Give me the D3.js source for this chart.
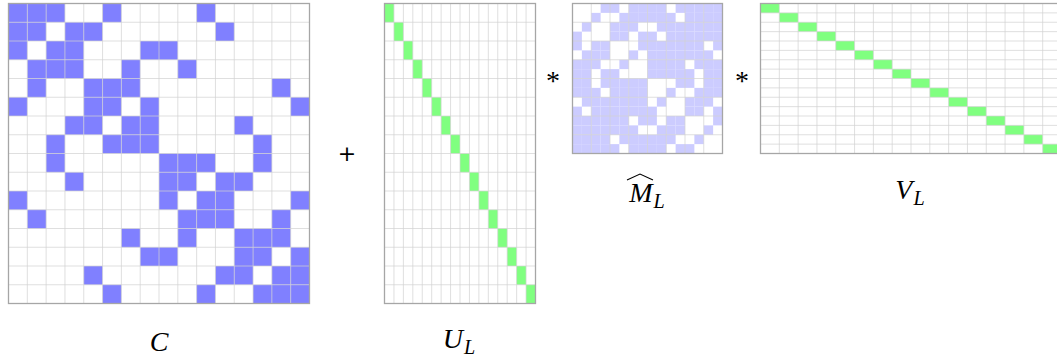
<!DOCTYPE html>
<html>
<head>
<meta charset="utf-8">
<script src="https://cdn.jsdelivr.net/npm/d3@7"></script>
<style>
  html, body { margin: 0; padding: 0; background: #fff; }
  svg { display: block; }
  .lbl { font-family: "Liberation Serif", "DejaVu Serif", serif; font-style: italic; fill: #000; }
  .op { font-family: "DejaVu Sans", sans-serif; fill: #000; }
</style>
</head>
<body>
<div id="chart"></div>
<script>
// C: sparse matrix, 1 = filled cell (row by row)
const cRows = [
  "1110010000100000",
  "1101100000010000",
  "1011000110000000",
  "0111001001000000",
  "0100111000000010",
  "1000110100000001",
  "0001101100001000",
  "0010011100000100",
  "0010000011100100",
  "0001000011011000",
  "1000000010110001",
  "0100000001110010",
  "0000001001001110",
  "0000000110001101",
  "0000100000011011",
  "0000010000100111"
];

// M_L hat: dense-ish matrix drawn at half cell size
const mRows = [
  "0001101111011111",
  "0010011111101111",
  "0100111001111111",
  "1000110110111111",
  "1011000111111101",
  "0111001011111110",
  "1110010011110111",
  "1101100011111011",
  "1101111100011011",
  "1110111100100111",
  "0111111101001110",
  "1011111110001101",
  "1111110110110001",
  "1111111001110010",
  "1111011111100100",
  "1111101111011000"
];

// U_L and V_L: column index of the filled cell in each row
const uDiag = [0, 1, 2, 3, 4, 5, 6, 7, 8, 9, 10, 11, 12, 13, 14, 15];
const vDiag = [0, 1, 2, 3, 4, 5, 6, 7, 8, 9, 10, 11, 12, 13, 14, 15];

const W = 1057, H = 360;
const idx = d3.range(16);

const svg = d3.select('#chart')
  .append('svg')
  .attr('width', W)
  .attr('height', H);

function cellsFromRows(rows) {
  const out = [];
  rows.forEach((r, i) => {
    r.split('').forEach((v, j) => { if (v === '1') out.push({ r: i, c: j }); });
  });
  return out;
}

function cellsFromDiag(diag) {
  return diag.map((c, i) => ({ r: i, c: c }));
}

function panel(opts) {
  const x = d3.scaleBand().domain(idx).range([0, opts.w]);
  const y = d3.scaleBand().domain(idx).range([0, opts.h]);

  const g = svg.append('g')
    .attr('transform', 'translate(' + opts.x + ',' + opts.y + ')');

  g.append('rect')
    .attr('width', opts.w)
    .attr('height', opts.h)
    .attr('fill', '#fff');

  g.selectAll('rect.cell')
    .data(opts.cells)
    .enter()
    .append('rect')
    .attr('class', 'cell')
    .attr('x', d => x(d.c))
    .attr('y', d => y(d.r))
    .attr('width', x.bandwidth())
    .attr('height', y.bandwidth())
    .attr('fill', opts.fill);

  const step = opts.gridStep || 1;
  const vx = idx.filter(i => i > 0 && i % step === 0);

  g.selectAll('line.vx')
    .data(vx)
    .enter()
    .append('line')
    .attr('x1', d => x(d)).attr('x2', d => x(d))
    .attr('y1', 0).attr('y2', opts.h)
    .attr('stroke', '#d2d2d2')
    .attr('stroke-opacity', 0.7)
    .attr('stroke-width', 1);

  g.selectAll('line.hy')
    .data(vx)
    .enter()
    .append('line')
    .attr('y1', d => y(d)).attr('y2', d => y(d))
    .attr('x1', 0).attr('x2', opts.w)
    .attr('stroke', '#d2d2d2')
    .attr('stroke-opacity', 0.7)
    .attr('stroke-width', 1);

  g.append('rect')
    .attr('width', opts.w)
    .attr('height', opts.h)
    .attr('fill', 'none')
    .attr('stroke', '#a6a6a6')
    .attr('stroke-width', 1.3);
}

panel({ x: 8.5, y: 3.5, w: 301, h: 300, cells: cellsFromRows(cRows), fill: '#8080ff' });
panel({ x: 384.5, y: 3.5, w: 151, h: 300, cells: cellsFromDiag(uDiag), fill: '#80ff80' });
panel({ x: 572.5, y: 3.5, w: 150, h: 150, cells: cellsFromRows(mRows), fill: '#ccccff', gridStep: 2 });
panel({ x: 760.5, y: 3.5, w: 301, h: 150, cells: cellsFromDiag(vDiag), fill: '#80ff80' });

// operators
svg.append('text').attr('class', 'op')
  .attr('x', 347).attr('y', 161).attr('text-anchor', 'middle')
  .attr('font-size', 22).text('+');
svg.append('text').attr('class', 'lbl')
  .attr('x', 553).attr('y', 90).attr('text-anchor', 'middle')
  .style('font-style', 'normal').attr('font-size', 28).text('*');
svg.append('text').attr('class', 'lbl')
  .attr('x', 742).attr('y', 90).attr('text-anchor', 'middle')
  .style('font-style', 'normal').attr('font-size', 28).text('*');

// labels
function label(cx, base, main, sub, size) {
  const t = svg.append('text').attr('class', 'lbl')
    .attr('x', cx).attr('y', base).attr('text-anchor', 'middle')
    .attr('font-size', size);
  t.append('tspan').text(main);
  if (sub) {
    t.append('tspan').attr('font-size', size * 0.72).attr('dx', 1).attr('dy', size * 0.2).text(sub);
  }
  return t;
}

label(159, 351, 'C', null, 28);
label(459, 348, 'U', 'L', 28);
label(647, 202, 'M', 'L', 28);
label(910, 199, 'V', 'L', 28);

// wide hat over M
svg.append('path')
  .attr('d', 'M627,180 L640,174 L653,180')
  .attr('fill', 'none')
  .attr('stroke', '#000')
  .attr('stroke-width', 1.1);
</script>
</body>
</html>
